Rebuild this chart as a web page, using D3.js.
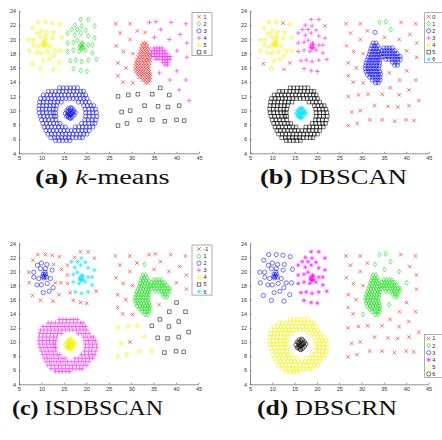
<!DOCTYPE html>
<html lang="en">
<head>
<meta charset="UTF-8" />
<title>Clustering comparison</title>
<script src="https://d3js.org/d3.v7.min.js"></script>
<style>
  body { margin: 0; background: #fff; }
  .axis path, .axis line { stroke: #444; stroke-width: 0.6; }
  .axis text { font-family: "Liberation Sans", Arial, sans-serif; font-size: 5.5px; fill: #333; }
  .legend text { font-family: "Liberation Sans", Arial, sans-serif; font-size: 5.5px; fill: #222; }
  .caption { font-family: "Liberation Serif", "DejaVu Serif", serif; font-size: 20px; fill: #111; }
</style>
</head>
<body>
<div id="chart"></div>
<script>
// axis ticks
const xTicks = [5, 10, 15, 20, 25, 30, 35, 40, 45];
const yTicks = [4, 6, 8, 10, 12, 14, 16, 18, 20, 22, 24];

// top-left gaussian cluster (A)
const aInner = [[9.1,20.9],[10.0,21.2],[11.2,21.0],[8.3,19.9],[9.8,20.4],[10.9,20.4],[12.4,20.2],
  [8.3,19.2],[9.4,19.0],[12.0,19.0],[9.0,18.1],[10.0,18.1],[11.3,18.3],[12.6,17.7],[10.4,17.0],[11.7,17.2],
  [10.4,19.6],[10.7,19.3],[10.9,19.6],[10.5,19.1],[10.8,19.9],[11.1,19.2],[10.3,19.3]];
const aEdge = [[9.2,22.4],[10.9,22.4],[14.0,22.1],[8.1,21.6],[12.7,21.0],[7.2,19.9],[14.5,20.3],
  [13.1,18.4],[7.3,18.4],[14.3,18.4],[9.8,15.9]];
const aFar = [[12.4,22.3],[8.0,16.6],[12.6,15.8],[13.9,16.7]];

// second gaussian cluster (B)
const bInner = [[18.9,21.9],[16.7,21.4],[18.0,21.4],[19.8,21.3],[17.4,20.6],[18.7,20.9],[20.4,20.5],
  [21.8,20.2],[17.1,19.6],[18.0,19.9],[20.4,19.2],[21.3,19.2],[17.1,18.5],[18.4,18.3],[19.8,18.5],
  [21.3,18.1],[17.6,17.1],[18.9,16.9],[20.4,17.1],
  [18.6,19.2],[19.0,18.9],[19.2,19.3],[18.8,18.7],[19.3,18.8],[18.5,18.9],[19.0,19.5]];
const bEdge = [[18.7,22.8],[20.4,22.8],[17.4,22.0],[15.8,20.9],[15.8,19.5],[15.8,18.3],[16.4,17.0],
  [22.2,17.2],[17.1,15.9],[18.7,15.6],[20.1,15.5]];
const bFar = [[21.8,21.9]];

// flower-shaped ring, one row per y value
const ringRows = [
  [13.2, [14.0,14.8,15.6,16.4,17.2,18.0]],
  [12.7, [11.5,12.3,13.1,13.9,14.7,15.5,16.3,17.1,17.9,18.7,19.3]],
  [12.2, [10.4,11.2,12.0,12.8,13.6,14.4,15.2,16.0,16.8,17.6,18.4,19.2,19.8]],
  [11.7, [9.8,10.6,11.4,12.2,13.0,13.8,14.6,15.4,16.2,17.0,17.8,18.6,19.4,20.1]],
  [11.2, [9.6,10.4,11.2,12.0,12.8,13.6,14.4,18.2,19.0,19.8,20.6]],
  [10.7, [9.5,10.3,11.1,11.9,12.7,13.4,19.4,20.2,21.0,21.6]],
  [10.2, [9.4,10.2,11.0,11.8,12.6,13.2,19.7,20.5,21.3,22.0]],
  [9.7, [9.5,10.3,11.1,11.9,12.6,13.1,19.8,20.6,21.4,22.2]],
  [9.2, [9.7,10.5,11.3,12.1,12.8,13.2,19.8,20.6,21.4,22.3]],
  [8.7, [10.0,10.8,11.6,12.4,13.2,19.6,20.4,21.2,22.1]],
  [8.2, [10.3,11.1,11.9,12.7,13.5,14.1,18.9,19.7,20.5,21.3,21.9]],
  [7.7, [10.6,11.4,12.2,13.0,13.8,14.6,15.3,17.5,18.3,19.1,19.9,20.7,21.4]],
  [7.2, [11.0,11.8,12.6,13.4,14.2,15.0,15.8,16.6,17.4,18.2,19.0,19.8,20.6]],
  [6.7, [11.4,12.2,13.0,13.8,14.6,15.4,16.2,17.0,17.8,18.6,19.4,20.1]],
  [6.2, [12.1,12.9,13.7,14.5,15.3,16.1,16.9,17.7,18.5,19.1]],
  [5.8, [13.1,13.9,14.7,15.5,16.3]]
];
const ringCore = [[15.3,9.6],[15.6,10.0],[15.6,9.2],[16.0,10.3],[16.0,9.7],[16.0,9.1],[16.4,10.1],
  [16.4,9.4],[16.4,8.9],[16.8,10.3],[16.8,9.7],[16.8,9.1],[17.2,10.0],[17.2,9.4],[17.5,9.7],
  [15.9,9.9],[16.6,9.6],[16.2,9.5],[16.5,10.4],[15.8,9.4],[17.0,9.8],[16.3,9.0]];

// dense hook-shaped cluster on the right
const stemRows = [
  [19.5, [32.6,33.2]],
  [19.1, [32.3,32.9,33.5]],
  [18.7, [32.1,32.7,33.3,33.9]],
  [18.3, [31.9,32.5,33.1,33.7]],
  [17.9, [31.7,32.3,32.9,33.5,34.0]],
  [17.5, [31.5,32.1,32.7,33.3,33.9]],
  [17.1, [31.2,31.8,32.4,33.0,33.6,34.1]],
  [16.7, [31.0,31.6,32.2,32.8,33.4,34.0]],
  [16.3, [30.9,31.5,32.1,32.7,33.3,33.9]],
  [15.9, [30.8,31.4,32.0,32.6,33.2,33.8]],
  [15.5, [31.0,31.6,32.2,32.8,33.4,34.0]],
  [15.1, [31.3,31.9,32.5,33.1,33.7,34.2]],
  [14.7, [31.8,32.4,33.0,33.6,34.1]],
  [14.3, [32.4,33.0,33.6,34.1]],
  [13.9, [33.1,33.7]]
];
const armRows = [
  [18.8, [35.0,35.6,36.2,36.8]],
  [18.4, [34.5,35.1,35.7,36.3,36.9,37.4]],
  [18.0, [34.4,35.0,35.6,36.2,36.8,37.4,37.9]],
  [17.6, [34.5,35.1,35.7,36.3,36.9,37.5,38.1,38.6]],
  [17.2, [35.4,36.1,36.8,37.4,38.0,38.6]],
  [16.8, [36.9,37.5,38.1]],
  [16.4, [37.4,38.0]]
];

// sparse points on the right
const noiseUL = [[26.5,22.2],[29.7,22.2],[27.5,20.9],[31.3,21.2],[29.7,20.0],[26.6,19.1],[28.2,18.3],
  [30.3,18.0],[27.0,16.7],[28.8,16.0],[27.0,14.9],[28.1,14.0]];
const noiseLink = [[33.0,21.0]];
const noiseTop = [[34.0,22.4],[35.4,22.5],[36.5,21.4]];
const noiseULd = [[30.3,13.9]];
const noiseURd = [[35.1,20.3],[38.4,20.0],[40.1,18.4],[36.2,15.3]];
const noiseUR = [[38.8,22.4],[42.1,22.2],[40.8,20.7],[42.3,19.5],[42.3,17.5]];
const noiseR = [[40.1,15.6],[38.5,14.3],[42.1,14.3],[40.6,12.9],[42.8,11.4]];
const noiseLR = [[36.4,13.2],[34.6,12.3],[38.4,12.2],[35.9,10.6],[38.1,10.5],[40.6,10.7],[37.4,8.5],
  [40.0,8.7],[41.7,8.6]];
const noiseLL = [[27.0,12.0],[29.3,12.2],[31.4,12.3],[32.9,10.7],[27.8,9.8],[27.0,7.9],[29.0,8.2],
  [31.8,8.7],[34.6,8.7]];
const noiseMid = [[29.7,10.0]];

// cluster label of each point group, per method
const groupNames = ["aInner","aEdge","aFar","bInner","bEdge","bFar","ring","ringCore","stem","arm",
  "noiseUL","noiseLink","noiseTop","noiseULd","noiseURd","noiseUR","noiseR","noiseLR","noiseLL","noiseMid"];
const kmeansLabels   = ["5","5","5","2","2","2","3","3","1","4","1","1","4","1","4","4","4","6","6","6"];
const dbscanLabels   = ["4","4","0","3","3","0","5","6","2","2","0","2","1","0","0","0","0","0","0","0"];
const isdbscanLabels = ["2","-1","-1","6","-1","-1","3","4","1","1","-1","1","-1","-1","-1","-1","5","5","4","-1"];
const dbscrnLabels   = ["3","3","3","4","4","4","5","6","2","2","1","2","2","2","2","1","1","1","1","1"];

// legend entries
const kmeansLegend = ["1","2","3","4","5","6"];
const dbscanLegend = ["0","1","2","3","4","5","6"];
const isdbscanLegend = ["-1","1","2","3","4","5","6"];
const dbscrnLegend = ["1","2","3","4","5","6"];

const rowsToPoints = rows => rows.flatMap(([yv, xs]) => xs.map(xv => [xv, yv]));
const groups = {
  aInner, aEdge, aFar, bInner, bEdge, bFar,
  ring: rowsToPoints(ringRows), ringCore,
  stem: rowsToPoints(stemRows), arm: rowsToPoints(armRows),
  noiseUL, noiseLink, noiseTop, noiseULd, noiseURd, noiseUR, noiseR, noiseLR, noiseLL, noiseMid
};

const stdMarkers = ["x","d","o","+","p","s","*"];
const stdColors = ["#ff0000","#00dd00","#0000ff","#ff00ff","#f2f200","#000000","#00e5ff"];

const panels = [
  { x0: 19, x1: 199, y0: 11, y1: 153.3, labels: kmeansLabels, legend: kmeansLegend,
    markers: stdMarkers, colors: stdColors, lx: 192, ly: 12.7, mOff: 7, tOff: 11.5,
    cap: [["(a)","bold"],[" ",""],["k","italic"],["-means",""]], cx: 35, cw: 135, cy: 184 },
  { x0: 250, x1: 428.7, y0: 11, y1: 153.3, labels: dbscanLabels, legend: dbscanLegend,
    markers: stdMarkers, colors: stdColors, lx: 424.7, ly: 12.7, mOff: 4, tOff: 7.5,
    cap: [["(b)","bold"],[" DBSCAN",""]], cx: 260, cw: 147, cy: 184 },
  { x0: 19, x1: 198.5, y0: 243.3, y1: 384.3, labels: isdbscanLabels, legend: isdbscanLegend,
    markers: stdMarkers, colors: stdColors, lx: 192, ly: 245, mOff: 7, tOff: 11.5,
    cap: [["(c)","bold"],[" ISDBSCAN",""]], cx: 12, cw: 151, cy: 415 },
  { x0: 250, x1: 428.5, y0: 243.3, y1: 384.3, labels: dbscrnLabels, legend: dbscrnLegend,
    markers: ["x","d","o","*","o","o"], colors: stdColors, lx: 424.7, ly: 334.5, mOff: 4, tOff: 7.5,
    cap: [["(d)","bold"],[" DBSCRN",""]], cx: 257, cw: 140, cy: 415 }
];

function markerPath(m) {
  switch (m) {
    case "x": return "M-1.8,-1.8L1.8,1.8M-1.8,1.8L1.8,-1.8";
    case "+": return "M-2.3,0H2.3M0,-2.3V2.3";
    case "*": return "M-2.3,0H2.3M0,-2.3V2.3M-1.6,-1.6L1.6,1.6M-1.6,1.6L1.6,-1.6";
    case "o": return "M2.1,0A2.1,2.1 0 1,1 -2.1,0A2.1,2.1 0 1,1 2.1,0Z";
    case "d": return "M0,-2.5L1.7,0L0,2.5L-1.7,0Z";
    case "s": return "M-1.8,-1.8H1.8V1.8H-1.8Z";
    case "p": return d3.symbol(d3.symbolStar).size(6.5)();
  }
}

const svg = d3.select("#chart").append("svg").attr("width", 442).attr("height", 440);

panels.forEach(p => {
  const g = svg.append("g");
  const x = d3.scaleLinear().domain([5, 45]).range([p.x0, p.x1]);
  const y = d3.scaleLinear().domain([4, 24]).range([p.y1, p.y0]);

  g.append("g").attr("class", "axis").attr("transform", `translate(0,${p.y1})`)
    .call(d3.axisBottom(x).tickValues(xTicks).tickSizeInner(-1.5).tickSizeOuter(0).tickPadding(2.5));
  g.append("g").attr("class", "axis").attr("transform", `translate(${p.x0},0)`)
    .call(d3.axisLeft(y).tickValues(yTicks).tickSizeInner(-1.5).tickSizeOuter(0).tickPadding(3));

  // points, one layer per cluster in legend order
  p.legend.forEach((lab, i) => {
    const pts = [];
    groupNames.forEach((gn, k) => { if (p.labels[k] === lab) pts.push(...groups[gn]); });
    g.append("g").selectAll("path").data(pts).join("path")
      .attr("transform", d => `translate(${x(d[0])},${y(d[1])})`)
      .attr("d", markerPath(p.markers[i]))
      .attr("fill", "none")
      .attr("stroke", p.colors[i])
      .attr("stroke-width", 0.55);
  });

  // legend box
  const step = 7.1;
  const lg = g.append("g").attr("class", "legend");
  lg.append("rect").attr("x", p.lx).attr("y", p.ly).attr("width", 20)
    .attr("height", 7.5 + (p.legend.length - 1) * step)
    .attr("fill", "#fff").attr("stroke", "#777").attr("stroke-width", 0.6);
  p.legend.forEach((lab, i) => {
    const yy = p.ly + 4 + i * step;
    lg.append("path").attr("transform", `translate(${p.lx + p.mOff},${yy})`)
      .attr("d", markerPath(p.markers[i])).attr("fill", "none")
      .attr("stroke", p.colors[i]).attr("stroke-width", 0.55);
    lg.append("text").attr("x", p.lx + p.tOff).attr("y", yy).attr("dy", "0.35em").text(lab);
  });

  // caption, stretched to the measured width
  const t = svg.append("text").attr("class", "caption").attr("x", p.cx).attr("y", p.cy);
  p.cap.forEach(([s, st]) => {
    const ts = t.append("tspan").text(s);
    if (st === "bold") ts.attr("font-weight", "bold");
    if (st === "italic") ts.attr("font-style", "italic");
  });
  const w = t.node().getBBox().width;
  t.attr("transform", `translate(${p.cx},0) scale(${p.cw / w},1) translate(${-p.cx},0)`);
});
</script>
</body>
</html>
